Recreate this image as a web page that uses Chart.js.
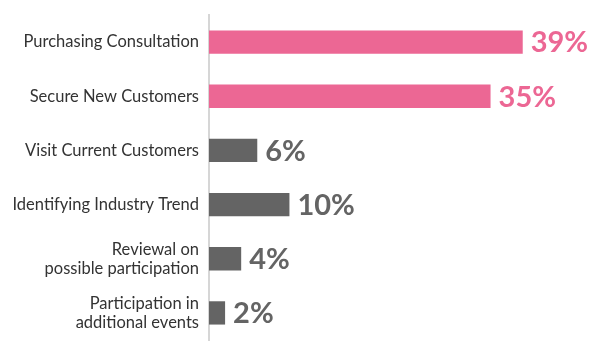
<!DOCTYPE html>
<html>
<head>
<meta charset="utf-8">
<script src="https://cdn.jsdelivr.net/npm/chart.js@4/dist/chart.umd.min.js"></script>
<style>
html,body{margin:0;padding:0;background:#fff;}
#wrap{width:600px;height:360px;position:relative;}
</style>
</head>
<body>
<div id="wrap"><canvas id="c" width="600" height="360"></canvas></div>
<script>
const categories = [
  "Purchasing Consultation",
  "Secure New Customers",
  "Visit Current Customers",
  "Identifying Industry Trend",
  ["Reviewal on", "possible participation"],
  ["Participation in", "additional events"]
];
const values = [39, 35, 6, 10, 4, 2];
const highlight = [true, true, false, false, false, false];
const PINK = "#ec6794";
const GRAY = "#646464";
const barColors = highlight.map(h => h ? PINK : GRAY);

const valueLabels = {
  id: "valueLabels",
  afterDatasetsDraw(chart) {
    const ctx = chart.ctx;
    const meta = chart.getDatasetMeta(0);
    ctx.save();
    ctx.font = "bold 29px Lato";
    ctx.textAlign = "left";
    ctx.textBaseline = "middle";
    meta.data.forEach((bar, i) => {
      ctx.fillStyle = barColors[i];
      ctx.fillText(values[i] + "%", bar.x + 8, bar.y + 1);
    });
    ctx.restore();
  }
};

new Chart(document.getElementById("c"), {
  type: "bar",
  data: {
    labels: categories,
    datasets: [{
      data: values,
      backgroundColor: barColors,
      borderWidth: 0,
      categoryPercentage: 1,
      barPercentage: 0.43
    }]
  },
  options: {
    indexAxis: "y",
    responsive: false,
    animation: false,
    devicePixelRatio: 1,
    layout: { padding: { top: 15, bottom: 20, right: 29, left: 0 } },
    plugins: { legend: { display: false }, tooltip: { enabled: false } },
    scales: {
      x: { display: false, min: 0, max: 45 },
      y: {
        afterFit(scale) {
          scale.width = 209;
          scale.paddingTop = 0;
          scale.paddingBottom = 0;
        },
        grid: { display: false, drawTicks: false },
        border: { display: true, color: "#d6d6d6", width: 2 },
        ticks: {
          color: "#333333",
          padding: 10,
          font: { family: "Lato", size: 16.5, lineHeight: 1.15 },
          autoSkip: false
        }
      }
    }
  },
  plugins: [valueLabels]
});
</script>
</body>
</html>
